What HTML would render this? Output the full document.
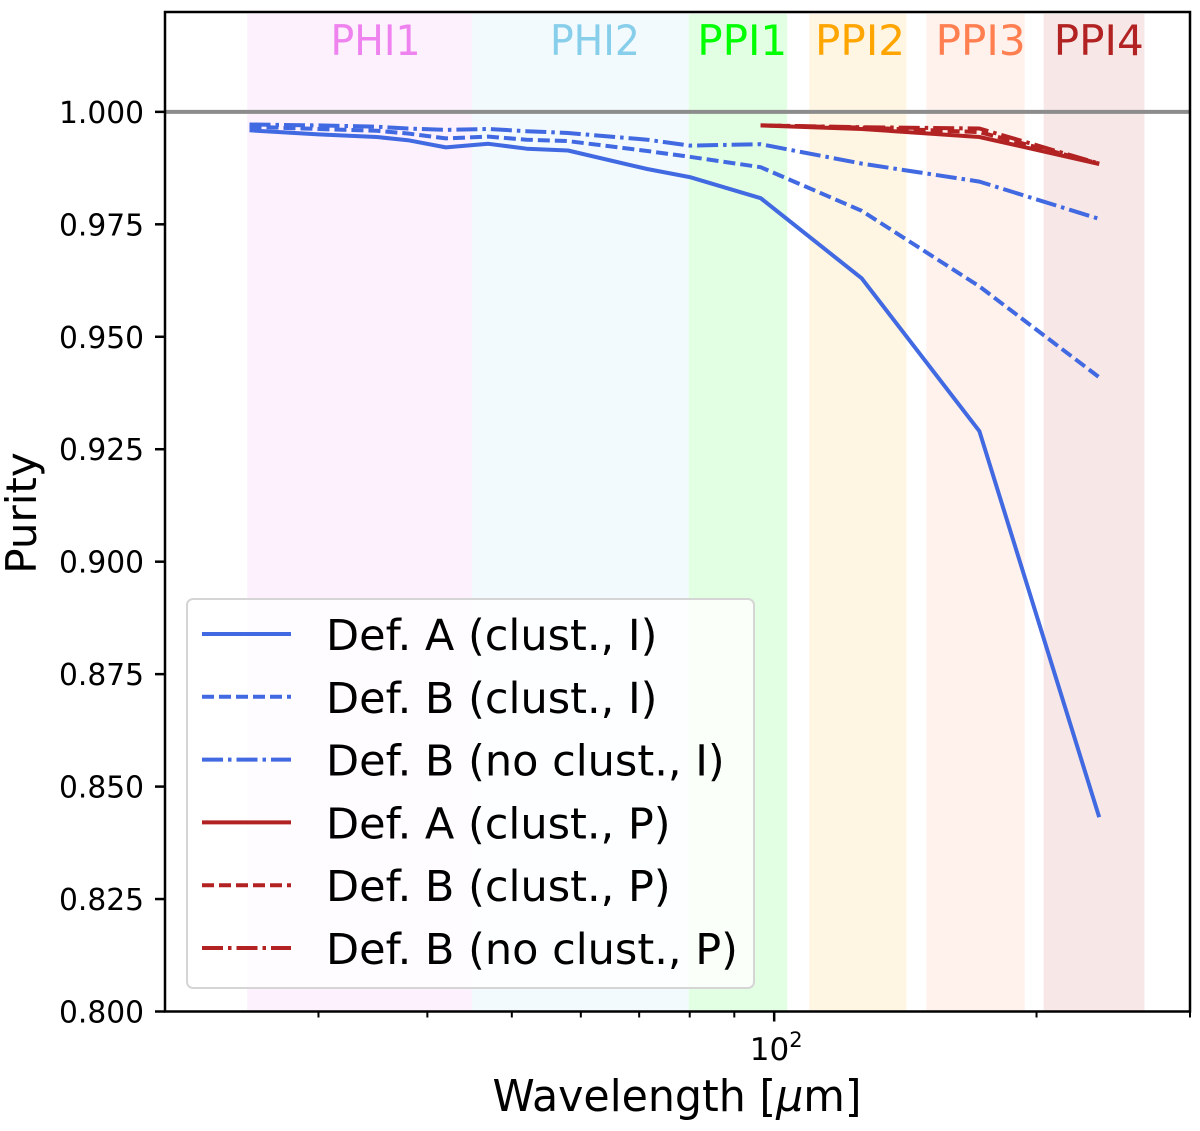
<!DOCTYPE html>
<html><head><meta charset="utf-8"><style>
html,body{margin:0;padding:0;background:#fff;}
svg{display:block;font-family:"DejaVu Sans","Liberation Sans",sans-serif;}
</style></head><body>
<svg id="chart" width="1200" height="1131" viewBox="0 0 1200 1131" xmlns="http://www.w3.org/2000/svg">
<g id="bands"></g>
<g id="grid"></g>
<g id="series"></g>
<g id="axes"></g>
<g id="legend"></g>
</svg>
<script>
// ---- data ----
const bandNames = ["PHI1","PHI2","PPI1","PPI2","PPI3","PPI4"];
const bandStart = [24.85, 45, 79.8, 109.7, 149.5, 203.8];
const bandEnd   = [45, 79.8, 103.5, 141.8, 193.8, 266];
const bandLabelPos = [30.97, 55.3, 81.6, 111.4, 153.2, 209.3];
const bandColors = ["#ee82ee","#87ceeb","#00ff00","#ffa500","#ff7f50","#b22222"];
const waveI = [25,30,35,38,42,47,52,58,71.5,80,96.5,126,172,236];
const defAclustI   = [0.9959,0.9950,0.9944,0.9937,0.9921,0.9929,0.9918,0.9914,0.9873,0.9855,0.9808,0.9630,0.9290,0.8432];
const defBclustI   = [0.9967,0.9962,0.9958,0.9952,0.9941,0.9945,0.9938,0.9935,0.9913,0.9900,0.9877,0.9780,0.9612,0.9410];
const defBnoclustI = [0.9972,0.9970,0.9967,0.9963,0.9960,0.9962,0.9957,0.9953,0.9938,0.9925,0.9928,0.9885,0.9845,0.9762];
const waveP = [96.5,126,172,236];
const defAclustP   = [0.9970,0.9962,0.9944,0.9884];
const defBclustP   = [0.9970,0.9965,0.9955,0.9885];
const defBnoclustP = [0.9970,0.9966,0.9963,0.9885];
const yTicks = [0.800,0.825,0.850,0.875,0.900,0.925,0.950,0.975,1.000];
const xMinor = [30,40,50,60,70,80,90,200,300];
const legendLabels = ["Def. A (clust., I)","Def. B (clust., I)","Def. B (no clust., I)","Def. A (clust., P)","Def. B (clust., P)","Def. B (no clust., P)"];

// ---- scales ----
const L=165,R=1190,T=12,B=1011.5;
const xMin=20,xMax=300,yMin=0.8,yMax=1.0222;
const xs=v=>L+(Math.log10(v)-Math.log10(xMin))/(Math.log10(xMax)-Math.log10(xMin))*(R-L);
const ys=v=>B-(v-yMin)/(yMax-yMin)*(B-T);
const NS="http://www.w3.org/2000/svg";
function mk(tag,attrs,parent){const e=document.createElementNS(NS,tag);for(const k in attrs)e.setAttribute(k,attrs[k]);parent.appendChild(e);return e;}

const gB=document.getElementById('bands');
bandNames.forEach((n,i)=>{
  const r=mk('rect',{x:xs(bandStart[i]),y:14,width:xs(bandEnd[i])-xs(bandStart[i]),height:B-14,fill:bandColors[i],'fill-opacity':0.11},gB);
  
  
  const t=mk('text',{x:xs(bandLabelPos[i]),y:55,'font-size':42,fill:bandColors[i],textLength:90,lengthAdjust:'spacingAndGlyphs'},gB);
  t.textContent=n;
  
  
});
const gG=document.getElementById('grid');
const ref=mk('line',{x1:L,x2:R,y1:ys(1.0),y2:ys(1.0),stroke:'#8c8c8c','stroke-width':4},gG);



const blue='#4169e1',red='#b22222';
const dashes={solid:'',dash:'12 5',dashdot:'21 5 3.5 5'};
const seriesDefs=[
 [waveI,defAclustI,blue,'solid','series-def-a-clust-i'],
 [waveI,defBclustI,blue,'dash','series-def-b-clust-i'],
 [waveI,defBnoclustI,blue,'dashdot','series-def-b-noclust-i'],
 [waveP,defAclustP,red,'solid','series-def-a-clust-p'],
 [waveP,defBclustP,red,'dash','series-def-b-clust-p'],
 [waveP,defBnoclustP,red,'dashdot','series-def-b-noclust-p']];
const gS=document.getElementById('series');
seriesDefs.forEach(s=>{
  const pts=s[0].map((w,i)=>xs(w).toFixed(1)+','+ys(s[1][i]).toFixed(1)).join(' ');
  const p=mk('polyline',{points:pts,fill:'none',stroke:s[2],'stroke-width':4,'stroke-dasharray':dashes[s[3]],'stroke-linejoin':'round'},gS);
  
  
});

const gA=document.getElementById('axes');
const frame=mk('rect',{x:L,y:T,width:R-L,height:B-T,fill:'none',stroke:'#000','stroke-width':2.5},gA);


yTicks.forEach(v=>{
  const y=ys(v);
  const tk=mk('line',{x1:L-10,x2:L,y1:y,y2:y,stroke:'#000','stroke-width':2.5},gA);
  
  
  const t=mk('text',{x:L-21,y:y+11,'text-anchor':'end','font-size':30,fill:'#000',textLength:85,lengthAdjust:'spacingAndGlyphs'},gA);
  t.textContent=v.toFixed(3);
  
  
});
xMinor.forEach(v=>{
  const x=xs(v);
  const tk=mk('line',{x1:x,x2:x,y1:B,y2:B+6,stroke:'#000','stroke-width':2},gA);
  
  
});
const mt=mk('line',{x1:xs(100),x2:xs(100),y1:B,y2:B+10,stroke:'#000','stroke-width':2.5},gA);


const xl=mk('text',{x:xs(100)+2,y:1060,'text-anchor':'middle','font-size':31,fill:'#000'},gA);
xl.innerHTML='10<tspan dy="-13" font-size="21">2</tspan>';


const xt=mk('text',{x:677,y:1111,'text-anchor':'middle','font-size':44,fill:'#000',textLength:369,lengthAdjust:'spacingAndGlyphs'},gA);
xt.innerHTML='Wavelength [<tspan font-style="italic">μ</tspan>m]';


const yt=mk('text',{x:0,y:0,'text-anchor':'middle','font-size':42,fill:'#000',transform:'translate(36,513) rotate(-90)'},gA);
yt.textContent='Purity';



const gL=document.getElementById('legend');
const box=mk('rect',{x:187,y:599,width:567,height:389,rx:6,fill:'#fff','fill-opacity':0.8,stroke:'#d5d5d5','stroke-width':2},gL);


legendLabels.forEach((lab,i)=>{
  const y=634+i*62.8;
  const s=seriesDefs[i];
  const ln=mk('line',{x1:202,x2:291,y1:y,y2:y,stroke:s[2],'stroke-width':4,'stroke-dasharray':dashes[s[3]]},gL);
  
  
  const t=mk('text',{x:326,y:y+16,'font-size':43,fill:'#000'},gL);
  t.textContent=lab;
  
  
});
</script>
</body></html>
